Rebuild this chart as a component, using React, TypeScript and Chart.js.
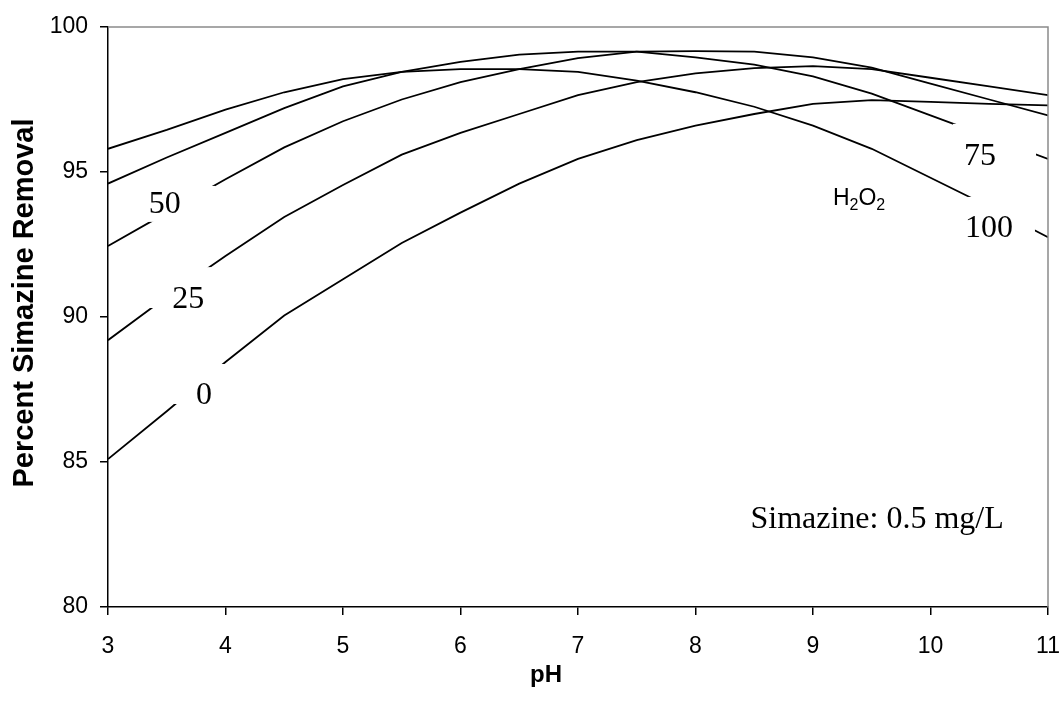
import React, { useEffect, useRef } from "react";
import { Chart, registerables } from "chart.js";

Chart.register(...registerables);

// ---- data ----
const PH = [3, 3.5, 4, 4.5, 5, 5.5, 6, 6.5, 7, 7.5, 8, 8.5, 9, 9.5, 10, 10.5, 11];
const H2O2_0 = [85.1, 86.75, 88.45, 90.05, 91.3, 92.55, 93.6, 94.6, 95.45, 96.1, 96.6, 97.0, 97.35, 97.48, 97.42, 97.35, 97.3];
const H2O2_25 = [89.2, 90.7, 92.1, 93.45, 94.55, 95.6, 96.35, 97.0, 97.65, 98.1, 98.4, 98.58, 98.65, 98.55, 98.25, 97.95, 97.65];
const H2O2_50 = [92.45, 93.6, 94.75, 95.85, 96.75, 97.5, 98.1, 98.55, 98.93, 99.15, 99.17, 99.15, 98.95, 98.6, 98.05, 97.5, 96.95];
const H2O2_75 = [94.6, 95.5, 96.35, 97.2, 97.95, 98.45, 98.8, 99.05, 99.15, 99.15, 98.95, 98.7, 98.3, 97.7, 96.95, 96.2, 95.45];
const H2O2_100 = [95.8, 96.45, 97.15, 97.75, 98.2, 98.45, 98.55, 98.55, 98.45, 98.15, 97.75, 97.25, 96.6, 95.8, 94.8, 93.8, 92.75];

const SERIES_NAMES = ["0", "25", "50", "75", "100"];
const SERIES_VALUES = [H2O2_0, H2O2_25, H2O2_50, H2O2_75, H2O2_100];

const X_MIN = 3;
const X_MAX = 11;
const X_STEP = 1;
const Y_MIN = 80;
const Y_MAX = 100;
const Y_STEP = 5;

const X_TITLE = "pH";
const Y_TITLE = "Percent Simazine Removal";
const NOTE = "Simazine: 0.5 mg/L";

// curve labels in data coordinates (center x, baseline y)
const LABEL_X = [3.817, 3.683, 3.483, 10.421, 10.498];
const LABEL_Y = [87.0, 90.3, 93.6, 95.24, 92.77];
// label boxes (white fill behind labels) in data coordinates
const BOX_X0 = [3.528, 3.34, 3.323, 10.191, 10.268];
const BOX_X1 = [3.996, 3.877, 3.911, 10.898, 10.889];
const BOX_YTOP = [88.38, 91.72, 94.52, 96.66, 94.14];
const BOX_YBOT = [87.0, 90.31, 93.28, 94.72, 92.31];

const H2O2_POS = [9.17, 93.86];
const NOTE_POS = [8.468, 82.72];

const SANS = '"Liberation Sans", Arial, sans-serif';
const SERIF = '"Liberation Serif", "Times New Roman", serif';

const overlay = {
  id: "overlay",
  afterDatasetsDraw(chart: any) {
    const { ctx, chartArea, scales } = chart;
    const xs = scales.x;
    const ys = scales.y;
    ctx.save();
    // white label boxes
    ctx.fillStyle = "#ffffff";
    for (let i = 0; i < SERIES_NAMES.length; i++) {
      const x0 = xs.getPixelForValue(BOX_X0[i]);
      const x1 = xs.getPixelForValue(BOX_X1[i]);
      const y0 = ys.getPixelForValue(BOX_YTOP[i]);
      const y1 = ys.getPixelForValue(BOX_YBOT[i]);
      ctx.fillRect(x0, y0, x1 - x0, y1 - y0);
    }
    // top / right frame
    ctx.strokeStyle = "#8a8a8a";
    ctx.lineWidth = 1.5;
    ctx.beginPath();
    ctx.moveTo(chartArea.left, chartArea.top);
    ctx.lineTo(chartArea.right, chartArea.top);
    ctx.lineTo(chartArea.right, chartArea.bottom);
    ctx.stroke();

    // curve labels
    ctx.fillStyle = "#000";
    ctx.font = `32px ${SERIF}`;
    ctx.textAlign = "center";
    ctx.textBaseline = "alphabetic";
    for (let i = 0; i < SERIES_NAMES.length; i++) {
      ctx.fillText(SERIES_NAMES[i], xs.getPixelForValue(LABEL_X[i]), ys.getPixelForValue(LABEL_Y[i]));
    }

    // H2O2
    let hx = xs.getPixelForValue(H2O2_POS[0]);
    const hy = ys.getPixelForValue(H2O2_POS[1]);
    ctx.textAlign = "left";
    const parts: [string, boolean][] = [["H", false], ["2", true], ["O", false], ["2", true]];
    for (const [t, sub] of parts) {
      ctx.font = sub ? `16px ${SANS}` : `23px ${SANS}`;
      ctx.fillText(t, hx, sub ? hy + 5 : hy);
      hx += ctx.measureText(t).width;
    }

    // note
    ctx.font = `32px ${SERIF}`;
    ctx.fillText(NOTE, xs.getPixelForValue(NOTE_POS[0]), ys.getPixelForValue(NOTE_POS[1]));

    // axis titles
    ctx.font = `bold 24px ${SANS}`;
    ctx.textAlign = "center";
    ctx.fillText(X_TITLE, 546, 682);

    ctx.save();
    ctx.translate(33, 303);
    ctx.rotate(-Math.PI / 2);
    ctx.font = `bold 29px ${SANS}`;
    ctx.textAlign = "center";
    ctx.textBaseline = "alphabetic";
    ctx.fillText(Y_TITLE, 0, 0);
    ctx.restore();

    ctx.restore();
  },
};

export default function App() {
  const ref = useRef<HTMLCanvasElement | null>(null);

  useEffect(() => {
    if (!ref.current) return;
    const datasets = SERIES_NAMES.map((name, i) => ({
      label: name,
      data: PH.map((p, j) => ({ x: p, y: SERIES_VALUES[i][j] })),
      borderColor: "#000000",
      borderWidth: 1.8,
      pointRadius: 0,
      tension: 0,
      fill: false,
    }));
    const chart = new Chart(ref.current, {
      type: "line",
      data: { datasets },
      options: {
        responsive: false,
        animation: false,
        layout: { padding: { top: 27, right: 11, left: 0, bottom: 0 } },
        plugins: { legend: { display: false }, tooltip: { enabled: false } },
        scales: {
          x: {
            type: "linear",
            min: X_MIN,
            max: X_MAX,
            ticks: { stepSize: X_STEP, color: "#000", font: { size: 23, family: SANS }, padding: 18 },
            grid: { drawOnChartArea: false, color: "#000", tickLength: 8, lineWidth: 1.5 },
            border: { color: "#000", width: 1.5 },
            afterFit(s: any) {
              s.height = 104;
              s.paddingLeft = 0;
              s.paddingRight = 0;
            },
          },
          y: {
            type: "linear",
            min: Y_MIN,
            max: Y_MAX,
            ticks: { stepSize: Y_STEP, color: "#000", font: { size: 23, family: SANS }, padding: 12 },
            grid: { drawOnChartArea: false, color: "#000", tickLength: 8, lineWidth: 1.5 },
            border: { color: "#000", width: 1.5 },
            afterFit(s: any) {
              s.width = 108;
              s.paddingTop = 0;
              s.paddingBottom = 0;
            },
          },
        },
      },
      plugins: [overlay],
    });
    return () => chart.destroy();
  }, []);

  return (
    <div style={{ position: "fixed", left: 0, top: 0, width: 1059, height: 711, background: "#fff" }}>
      <canvas ref={ref} width={1059} height={711} />
    </div>
  );
}
